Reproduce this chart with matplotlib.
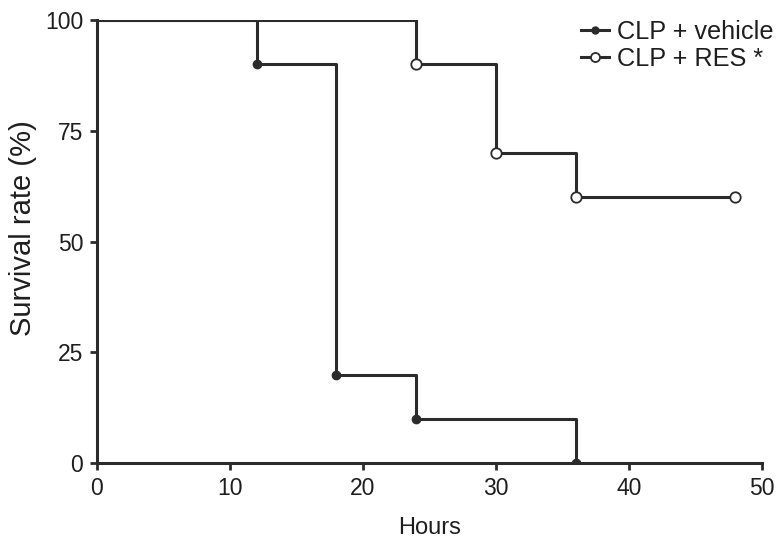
import matplotlib
matplotlib.use("Agg")
from matplotlib import pyplot as plt

plt.rcParams['font.family'] = ['Liberation Sans', 'DejaVu Sans']

# step data (hours, survival %)
vehicle_t = [0, 12, 18, 24, 36]
vehicle_s = [100, 90, 20, 10, 0]
vehicle_mark_t = [12, 18, 24, 36]
vehicle_mark_s = [90, 20, 10, 0]

res_t = [0, 24, 30, 36, 48]
res_s = [100, 90, 70, 60, 60]
res_mark_t = [24, 30, 36, 48]
res_mark_s = [90, 70, 60, 60]

x_ticks = [0, 10, 20, 30, 40, 50]
y_ticks = [0, 25, 50, 75, 100]

fig = plt.figure(figsize=(7.79, 5.43), dpi=100)
ax = fig.add_axes([0.1245, 0.147, 0.8535, 0.816])

col = '#2b2b2b'
txt = '#1e1e1e'
ax.step(vehicle_t, vehicle_s, where='post', color=col, lw=2.2, zorder=2)
ax.plot(vehicle_mark_t, vehicle_mark_s, 'o', color=col, ms=6, zorder=3)
ax.step(res_t, res_s, where='post', color=col, lw=2.2, zorder=2)
ax.plot(res_mark_t, res_mark_s, 'o', mfc='white', mec=col, mew=1.3, ms=7.5, zorder=3)

# legend proxies
h1, = ax.plot([], [], '-o', color=col, lw=2.2, ms=5, label='CLP + vehicle')
h2, = ax.plot([], [], '-o', color=col, lw=2.2, mfc='white', mec=col, mew=1.3, ms=6.5,
              label='CLP + RES *')
leg = ax.legend(handles=[h1, h2], loc='upper right', bbox_to_anchor=(1.04, 1.035),
                frameon=False, fontsize=18.2, handlelength=1.1, handletextpad=0.3,
                labelspacing=0.12, borderaxespad=0.2)
for t in leg.get_texts():
    t.set_color(txt)

ax.set_xlim(0, 50)
ax.set_ylim(0, 100)
ax.set_xticks(x_ticks)
ax.set_yticks(y_ticks)
for s in ['top', 'right']:
    ax.spines[s].set_visible(False)
for s in ['left', 'bottom']:
    ax.spines[s].set_linewidth(2.2)
    ax.spines[s].set_color(col)
ax.tick_params(direction='out', length=5, width=2, color=col, labelsize=16.5, pad=5,
               labelcolor=txt)
ax.set_xlabel('Hours', fontsize=17, labelpad=12, color=txt)
ax.set_ylabel('Survival rate (%)', fontsize=21, color=txt)
ax.yaxis.set_label_coords(-0.09, 0.53)

fig.savefig('out.png', dpi=100)
